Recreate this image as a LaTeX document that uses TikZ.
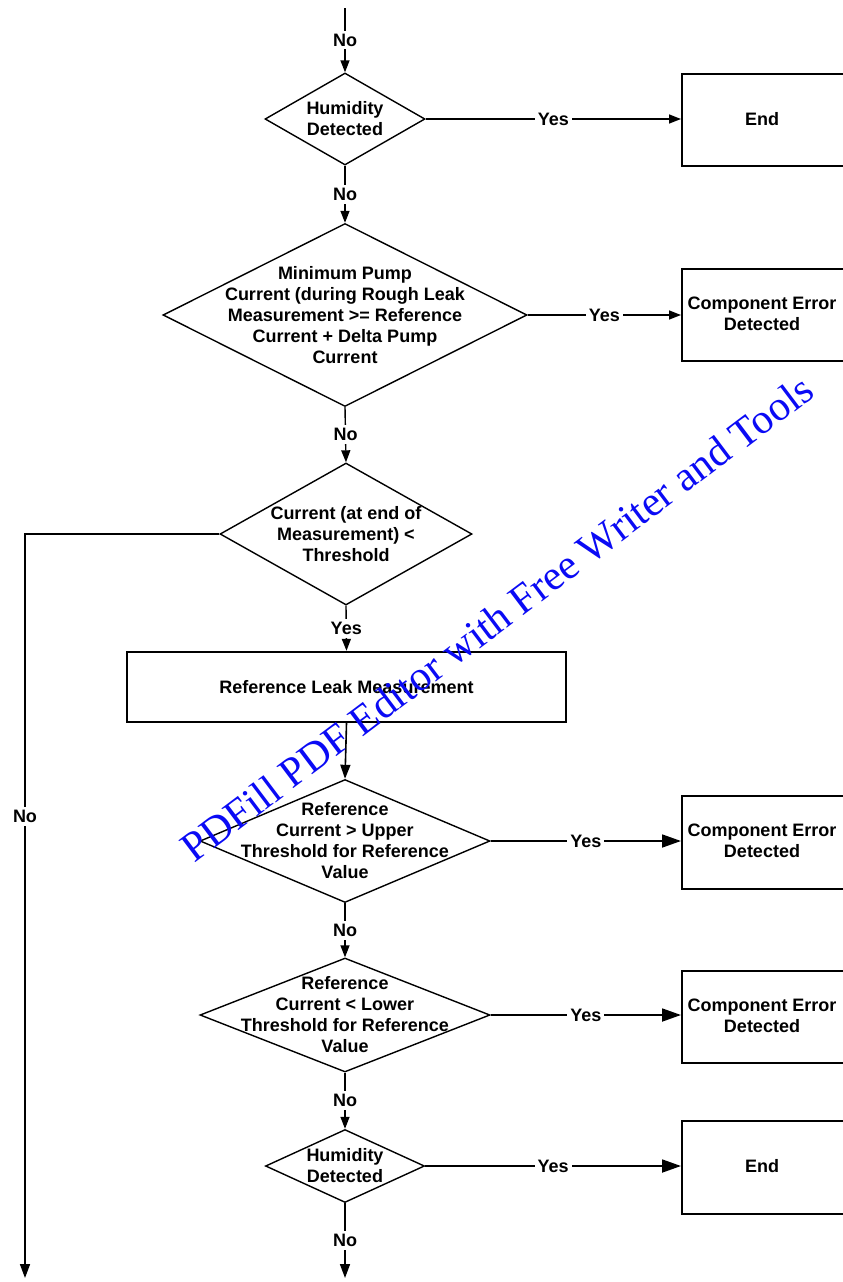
\documentclass[tikz,border=0pt]{standalone}
\usepackage{fontspec}
\setmainfont{Liberation Sans}
\newfontfamily\wmfont{Liberation Serif}
\usetikzlibrary{shapes.geometric,arrows.meta}
\definecolor{wmblue}{RGB}{10,10,245}
\begin{document}
\begin{tikzpicture}[x=1pt,y=-1pt,
  line width=1.4pt,
  dia/.style={draw,shape=diamond,inner sep=0pt,line width=1.4pt},
  box/.style={draw,rectangle,line width=2.4pt,inner sep=0pt,font=\bfseries\fontsize{18}{21}\selectfont,align=center},
  txt/.style={font=\bfseries\fontsize{18}{21}\selectfont,align=center,inner sep=0pt},
  lbl/.style={font=\bfseries\fontsize{18}{21}\selectfont,fill=white,inner sep=3pt},
  arr/.style={-{Triangle[length=12pt,width=9pt]}},
  bigarr/.style={line width=1.8pt,-{Triangle[length=19pt,width=13pt]}}
]
\useasboundingbox[fill=white] (0,0) rectangle (843,1282);

% decisions
\node[dia,minimum width=160,minimum height=92] (d1) at (345,119) {};
\node[txt] (d1t) at (d1) {Humidity\\Detected};
\node[dia,minimum width=364,minimum height=183] (d2) at (345,315) {};
\node[txt] (d2t) at (d2) {Minimum Pump\\Current (during Rough Leak\\Measurement >= Reference\\Current + Delta Pump\\Current};
\node[dia,minimum width=252,minimum height=142] (d3) at (346,534) {};
\node[txt] (d3t) at (d3) {Current (at end of\\Measurement) <\\Threshold};
\node[dia,minimum width=290,minimum height=123] (d4) at (345,841) {};
\node[txt] (d4t) at (d4) {Reference\\Current > Upper\\Threshold for Reference\\Value};
\node[dia,minimum width=290,minimum height=114] (d5) at (345,1015) {};
\node[txt] (d5t) at (d5) {Reference\\Current < Lower\\Threshold for Reference\\Value};
\node[dia,minimum width=159,minimum height=73] (d6) at (345,1166) {};
\node[txt] (d6t) at (d6) {Humidity\\Detected};

% boxes
\node[box,minimum width=439,minimum height=70] (rl) at (346.5,687) {Reference Leak Measurement};
\node[box,minimum width=164,minimum height=92,anchor=north west] (e1) at (681,73) {};
\node[txt] at (762,119) {End};
\node[box,minimum width=170,minimum height=92,anchor=north west] (c1) at (681,268) {};
\node[txt] (c1t) at (762,314) {Component Error\\Detected};
\node[box,minimum width=170,minimum height=93,anchor=north west] (c2) at (681,795) {};
\node[txt] (c2t) at (762,841) {Component Error\\Detected};
\node[box,minimum width=170,minimum height=92,anchor=north west] (c3) at (681,970) {};
\node[txt] (c3t) at (762,1016) {Component Error\\Detected};
\node[box,minimum width=164,minimum height=93,anchor=north west] (e2) at (681,1120) {};
\node[txt] at (762,1166) {End};

% free ends
\coordinate (top) at (345,8);
\coordinate (bm) at (345,1278);
\coordinate (bl) at (25,1278);

% vertical flow
\draw[arr] (top) -- node[lbl] {No} (d1.north);
\draw[arr] (d1.south) -- node[lbl] {No} (d2.north);
\draw[arr] (d2.south) -- node[lbl] {No} (d3.north);
\draw[arr] (d3.south) -- node[lbl] {Yes} (rl.north);
\draw[arr,line width=1.6pt,-{Triangle[length=14pt,width=10pt]}] (rl.south) -- (d4.north);
\draw[arr] (d4.south) -- node[lbl] {No} (d5.north);
\draw[arr] (d5.south) -- node[lbl] {No} (d6.north);
\draw[line width=1.6pt,-{Triangle[length=14pt,width=10pt]}] (d6.south) -- node[lbl] {No} (bm);
\draw[line width=1.6pt,-{Triangle[length=14pt,width=10pt]}] (d3.west) -| node[lbl,pos=0.69] {No} (bl);

% yes branches
\draw[arr] (d1.east) -- node[lbl] {Yes} (d1.east -| e1.west);
\draw[arr] (d2.east) -- node[lbl] {Yes} (d2.east -| c1.west);
\draw[bigarr] (d4.east) -- node[lbl] {Yes} (d4.east -| c2.west);
\draw[bigarr] (d5.east) -- node[lbl] {Yes} (d5.east -| c3.west);
\draw[bigarr] (d6.east) -- node[lbl] {Yes} (d6.east -| e2.west);

% watermark
\node[rotate=37,text=wmblue,font=\wmfont\fontsize{42}{42}\selectfont,inner sep=0pt] (wm) at (497,618) {PDFill PDF Editor with Free Writer and Tools};
\end{tikzpicture}
\end{document}
